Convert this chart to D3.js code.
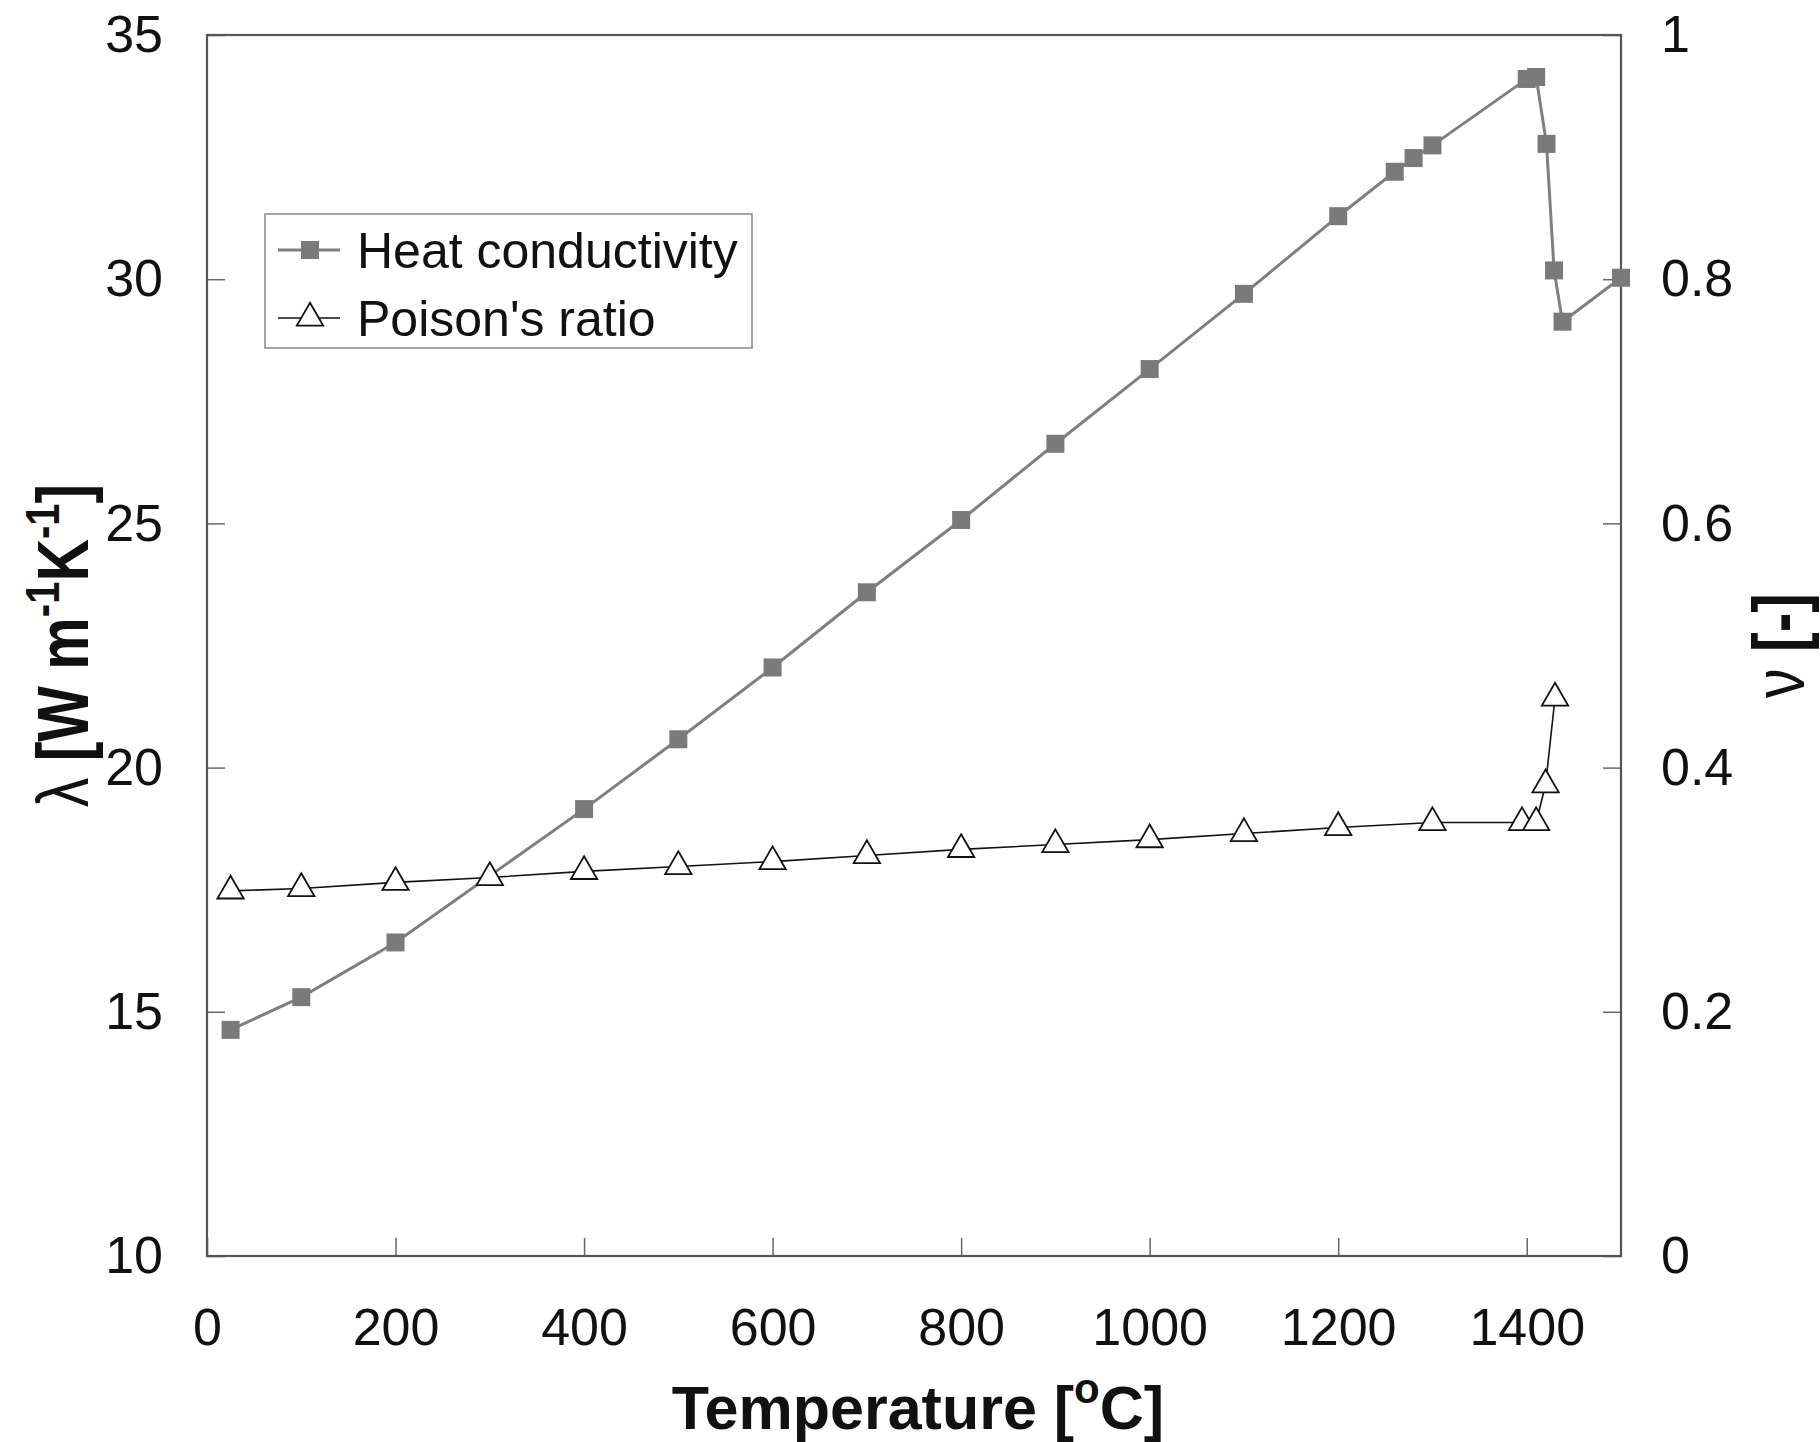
<!DOCTYPE html>
<html>
<head>
<meta charset="utf-8">
<script src="https://cdn.jsdelivr.net/npm/d3@7"></script>
<style>
  body { margin: 0; background: #fff; }
  svg text { font-family: "Liberation Sans", Arial, sans-serif; fill: #111; }
</style>
</head>
<body>
<svg id="chart"></svg>
<script>
// temperature [°C] and heat conductivity [W m-1 K-1]
const heatTemp = [25, 100, 200, 400, 500, 600, 700, 800, 900, 1000, 1100, 1200, 1260, 1280, 1300, 1400, 1410, 1421, 1429, 1438, 1500];
const heatValue = [14.63, 15.30, 16.42, 19.15, 20.58, 22.05, 23.59, 25.07, 26.63, 28.16, 29.70, 31.29, 32.20, 32.48, 32.74, 34.10, 34.14, 32.77, 30.18, 29.13, 30.03];

// temperature [°C] and Poisson's ratio [-]
const poisTemp = [25, 100, 200, 300, 400, 500, 600, 700, 800, 900, 1000, 1100, 1200, 1300, 1395, 1410, 1420, 1430];
const poisValue = [0.299, 0.301, 0.306, 0.310, 0.315, 0.319, 0.323, 0.328, 0.333, 0.337, 0.341, 0.346, 0.351, 0.355, 0.355, 0.355, 0.386, 0.457];

const xTicks = [0, 200, 400, 600, 800, 1000, 1200, 1400];
const leftTicks = [10, 15, 20, 25, 30, 35];
const rightTicks = [0, 0.2, 0.4, 0.6, 0.8, 1];
const legendLabels = ["Heat conductivity", "Poison's ratio"];

const W = 1820, H = 1442;
const margin = { top: 35, right: 199, bottom: 186, left: 207 },
  width = W - margin.left - margin.right,
  height = H - margin.top - margin.bottom;

const svg = d3.select("#chart")
  .attr("width", W)
  .attr("height", H);

const g = svg.append("g")
  .attr("transform", `translate(${margin.left},${margin.top})`);

const x = d3.scaleLinear().domain([0, 1500]).range([0, width]);
const yL = d3.scaleLinear().domain([10, 35]).range([height, 0]);
const yR = d3.scaleLinear().domain([0, 1]).range([height, 0]);

// axes, ticks pointing inward
const xAxis = g.append("g")
  .attr("transform", `translate(0,${height})`)
  .call(d3.axisBottom(x).tickValues(xTicks).tickSize(-18).tickPadding(52).tickFormat(d3.format("d")));

const lAxis = g.append("g")
  .call(d3.axisLeft(yL).tickValues(leftTicks).tickSize(-18).tickPadding(44).tickFormat(d3.format("d")));

const rAxis = g.append("g")
  .attr("transform", `translate(${width},0)`)
  .call(d3.axisRight(yR).tickValues(rightTicks).tickSize(-18).tickPadding(40).tickFormat(d => d === 0 || d === 1 ? d3.format("d")(d) : d3.format(".1f")(d)));

[xAxis, lAxis, rAxis].forEach(a => {
  a.select(".domain").remove();
  a.selectAll(".tick line").attr("stroke", "#666").attr("stroke-width", 1.5);
  a.selectAll(".tick text").style("font-size", "52px").attr("fill", "#111");
});

// frame
g.append("rect")
  .attr("x", 0).attr("y", 0)
  .attr("width", width).attr("height", height)
  .attr("fill", "none")
  .attr("stroke", "#555")
  .attr("stroke-width", 2.2);

// heat conductivity
const heatData = heatTemp.map((t, i) => ({ t: t, v: heatValue[i] }));
g.append("path")
  .datum(heatData)
  .attr("fill", "none")
  .attr("stroke", "#7f7f7f")
  .attr("stroke-width", 3)
  .attr("d", d3.line().x(d => x(d.t)).y(d => yL(d.v)));

const sq = 18;
g.selectAll(".heat")
  .data(heatData)
  .join("rect")
  .attr("class", "heat")
  .attr("x", d => x(d.t) - sq / 2)
  .attr("y", d => yL(d.v) - sq / 2)
  .attr("width", sq)
  .attr("height", sq)
  .attr("fill", "#7a7a7a");

// poisson's ratio
const poisData = poisTemp.map((t, i) => ({ t: t, v: poisValue[i] }));
g.append("path")
  .datum(poisData)
  .attr("fill", "none")
  .attr("stroke", "#111")
  .attr("stroke-width", 1.6)
  .attr("d", d3.line().x(d => x(d.t)).y(d => yR(d.v)));

const tri = d3.symbol().type(d3.symbolTriangle).size(300);
g.selectAll(".pois")
  .data(poisData)
  .join("path")
  .attr("class", "pois")
  .attr("transform", d => `translate(${x(d.t)},${yR(d.v)})`)
  .attr("d", tri)
  .attr("fill", "#fff")
  .attr("stroke", "#111")
  .attr("stroke-width", 1.8);

// legend
const leg = svg.append("g").attr("transform", "translate(265,214)");
leg.append("rect")
  .attr("width", 487).attr("height", 134)
  .attr("fill", "#fff")
  .attr("stroke", "#888")
  .attr("stroke-width", 1.5);

legendLabels.forEach((label, i) => {
  const cy = 36 + i * 68;
  const row = leg.append("g").attr("transform", `translate(0,${cy})`);
  row.append("line")
    .attr("x1", 13).attr("x2", 75)
    .attr("stroke", i === 0 ? "#7f7f7f" : "#111")
    .attr("stroke-width", i === 0 ? 3 : 1.6);
  if (i === 0) {
    row.append("rect")
      .attr("x", 45 - sq / 2).attr("y", -sq / 2)
      .attr("width", sq).attr("height", sq)
      .attr("fill", "#7a7a7a");
  } else {
    row.append("path")
      .attr("transform", "translate(45,0)")
      .attr("d", tri)
      .attr("fill", "#fff")
      .attr("stroke", "#111")
      .attr("stroke-width", 1.8);
  }
  row.append("text")
    .attr("x", 92)
    .attr("dy", "0.35em")
    .style("font-size", "50px")
    .text(label);
});

// x axis title
const xt = svg.append("text")
  .attr("x", margin.left + width / 2 + 4)
  .attr("y", 1429)
  .attr("text-anchor", "middle")
  .style("font-size", "61px")
  .style("font-weight", "bold");
xt.append("tspan").text("Temperature [");
xt.append("tspan").attr("dy", -26).style("font-size", "42px").text("o");
xt.append("tspan").attr("dy", 26).text("C]");

// left y title (glyphs look stretched across the axis in the original)
const lt = svg.append("text")
  .attr("transform", `translate(88,${margin.top + height / 2}) rotate(-90) scale(1,1.22)`)
  .attr("text-anchor", "middle")
  .style("font-size", "59px")
  .style("font-weight", "bold");
lt.append("tspan").style("font-weight", "normal").text("λ");
lt.append("tspan").text(" [W m");
lt.append("tspan").attr("dy", -24).style("font-size", "40px").text("-1");
lt.append("tspan").attr("dy", 24).text("K");
lt.append("tspan").attr("dy", -24).style("font-size", "40px").text("-1");
lt.append("tspan").attr("dy", 24).text("]");

// right y title
const rt = svg.append("text")
  .attr("transform", `translate(1804,${margin.top + height / 2}) rotate(-90) scale(1,1.22)`)
  .attr("text-anchor", "middle")
  .style("font-size", "59px")
  .style("font-weight", "bold");
rt.append("tspan").style("font-weight", "normal").text("ν");
rt.append("tspan").text(" [-]");
</script>
</body>
</html>
